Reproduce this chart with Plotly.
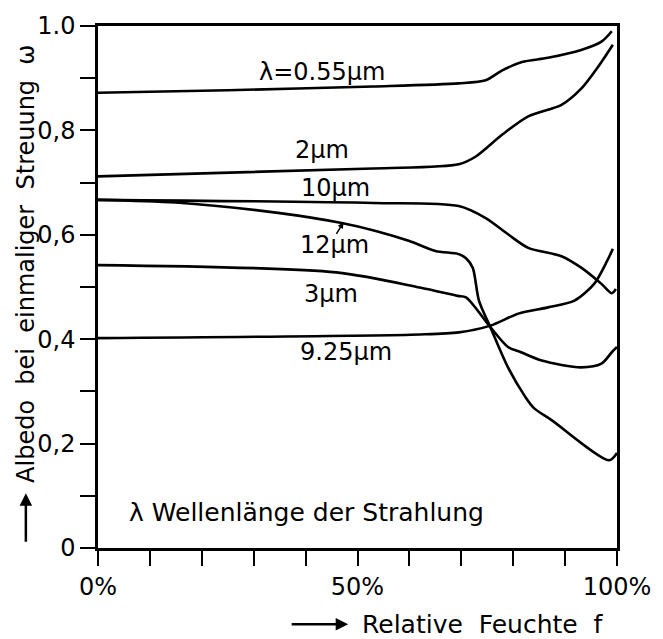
import plotly.graph_objects as go

# Relative humidity (%) and single-scattering albedo per wavelength
f_055 = [0, 25, 53, 69.5, 74.7, 77.9, 81.7, 86.7, 93.1, 97, 99]
w_055 = [0.872, 0.877, 0.884, 0.890, 0.896, 0.915, 0.931, 0.939, 0.954, 0.970, 0.990]

f_2 = [0, 53, 69.5, 72.8, 77.9, 82.9, 89.3, 93.1, 97, 99.2]
w_2 = [0.712, 0.727, 0.735, 0.750, 0.792, 0.827, 0.849, 0.880, 0.931, 0.964]

f_10 = [0, 53, 69.5, 74.7, 79, 82.9, 89.3, 93.1, 97, 99, 99.8]
w_10 = [0.667, 0.661, 0.655, 0.632, 0.601, 0.575, 0.559, 0.537, 0.506, 0.488, 0.496]

f_12 = [0, 15, 34.7, 46.7, 53.7, 60, 65, 69.5, 70.9, 72.2, 73.4, 75.6, 79, 82.3, 84, 87.4, 98.5, 100]
w_12 = [0.667, 0.662, 0.642, 0.623, 0.607, 0.588, 0.569, 0.563, 0.555, 0.537, 0.474, 0.423, 0.346, 0.290, 0.268, 0.245, 0.168, 0.182]

f_3 = [0, 45.9, 62, 69.3, 70.9, 75.6, 79, 81.5, 85.5, 93.1, 97, 99, 100]
w_3 = [0.542, 0.528, 0.499, 0.483, 0.480, 0.423, 0.385, 0.375, 0.359, 0.346, 0.353, 0.375, 0.385]

f_925 = [0, 62, 69.5, 75.6, 81, 86.7, 91.8, 95.6, 98.1, 99.2]
w_925 = [0.402, 0.409, 0.413, 0.426, 0.449, 0.461, 0.474, 0.506, 0.550, 0.573]

series = [(f_055, w_055), (f_2, w_2), (f_10, w_10), (f_12, w_12), (f_3, w_3), (f_925, w_925)]

label_text = ["λ=0.55µm", "2µm", "10µm", "12µm", "3µm", "9.25µm"]
label_x = [43.1, 43.2, 45.7, 45.5, 44.8, 47.8]
label_y = [0.912, 0.762, 0.689, 0.580, 0.487, 0.375]

x_ticks = list(range(0, 101, 10))
x_ticktext = ["0%", "", "", "", "", "50%", "", "", "", "", "100%"]
y_ticks = [i / 10 for i in range(11)]
y_ticktext = ["0", "", "0,2", "", "0,4", "", "0,6", "", "0,8", "", "1.0"]

NB2 = "\u00a0\u00a0"
y_title = NB2.join(["Albedo", "bei", "einmaliger", "Streuung", "ω"])
x_title = NB2.join(["Relative", "Feuchte", "f"])
note_text = "λ Wellenlänge der Strahlung"

FONT = "DejaVu Sans, Liberation Sans, Arial, sans-serif"
FS = 25
FY = 24
FL = 24
FT = 24

fig = go.Figure()
for fx, wy in series:
    fig.add_trace(go.Scatter(x=fx, y=wy, mode="lines",
                             line=dict(color="black", width=2.6, shape="spline", smoothing=0.8),
                             showlegend=False, hoverinfo="skip"))

annotations = []
for t, lx, ly in zip(label_text, label_x, label_y):
    annotations.append(dict(x=lx, y=ly, xref="x", yref="y", text=t, showarrow=False,
                            xanchor="center", yanchor="middle",
                            font=dict(family=FONT, size=FL, color="black")))

# pointer for 12 µm label
annotations.append(dict(x=47.3, y=0.624, xref="x", yref="y", text="", showarrow=True,
                        ax=-8, ay=13, arrowhead=2, arrowsize=0.8, arrowwidth=1.5, arrowcolor="black"))

annotations.append(dict(x=5.6, y=0.068, xref="x", yref="y", text=note_text,
                        xanchor="left", yanchor="middle", showarrow=False,
                        font=dict(family=FONT, size=FS, color="black")))

# y axis title + arrow
annotations.append(dict(x=-0.139, y=0.544, xref="paper", yref="paper",
                        xanchor="center", yanchor="middle",
                        text=y_title, textangle=-90, showarrow=False,
                        font=dict(family=FONT, size=FY, color="black")))
annotations.append(dict(x=-0.139, y=0.105, xref="paper", yref="paper", text="", showarrow=True,
                        ax=0, ay=50, arrowhead=2, arrowsize=1, arrowwidth=2.5, arrowcolor="black"))

# x axis title + arrow
annotations.append(dict(x=0.505, y=-0.146, xref="paper", yref="paper",
                        text=x_title, xanchor="left", yanchor="middle", showarrow=False,
                        font=dict(family=FONT, size=FS, color="black")))
annotations.append(dict(x=0.482, y=-0.146, xref="paper", yref="paper", text="", showarrow=True,
                        ax=-58, ay=0, arrowhead=2, arrowsize=1, arrowwidth=2.5, arrowcolor="black"))

fig.update_layout(
    width=663, height=639,
    margin=dict(l=98, r=40, t=24, b=91),
    paper_bgcolor="white", plot_bgcolor="white",
    annotations=annotations,
    font=dict(family=FONT, size=FT, color="black"),
)
fig.update_xaxes(range=[0, 100], showgrid=False, zeroline=False,
                 showline=True, linecolor="black", linewidth=2.5, mirror=True,
                 ticks="outside", ticklen=15, tickwidth=2, tickcolor="black",
                 tickvals=x_ticks, ticktext=x_ticktext,
                 tickfont=dict(family=FONT, size=FT, color="black"))
fig.update_yaxes(range=[0, 1], showgrid=False, zeroline=False,
                 showline=True, linecolor="black", linewidth=2.5, mirror=True,
                 ticks="outside", ticklen=15, tickwidth=2, tickcolor="black",
                 tickvals=y_ticks, ticktext=y_ticktext,
                 tickfont=dict(family=FONT, size=FT, color="black"))

fig.write_html("out.html")
